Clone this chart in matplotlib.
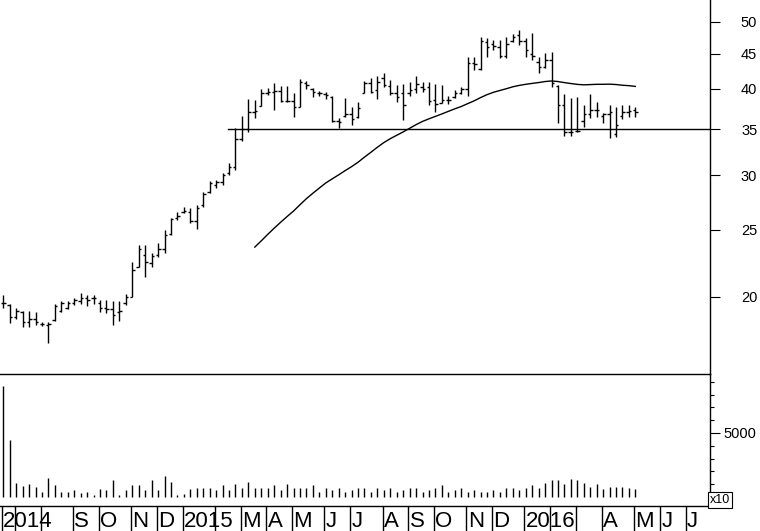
import matplotlib
matplotlib.use('Agg')
import matplotlib.pyplot as plt
import numpy as np
import pandas as pd

# Weekly bars, one per Friday; a bar whose Friday was a holiday
# carries the date of the last trading day of that week
first_week = '2014-06-20'
holidays = {'2016-01-01': '2015-12-31'}

high = [20.13, 19.53, 19.27, 19.08, 19.08, 19.02, 18.39, 18.39, 19.53, 19.73,
        19.73, 19.92, 20.26, 20.13, 20.13, 19.79, 19.79, 19.73, 19.73, 20.19,
        22.47, 23.78, 23.78, 23.15, 23.94, 25.00, 26.02, 26.54, 26.99, 26.90,
        27.17, 28.37, 29.43, 29.53, 30.23, 31.25, 35.12, 36.55, 38.68, 38.55,
        39.99, 40.12, 40.80, 40.39, 40.39, 39.46, 41.35, 41.08, 40.12, 39.73,
        39.59, 39.07, 36.31, 38.81, 37.67, 38.30, 41.08, 41.49, 41.76, 42.18,
        41.21, 40.53, 40.66, 40.94, 41.76, 40.94, 40.94, 40.66, 40.53, 39.07,
        39.86, 40.26, 44.50, 44.50, 47.56, 47.40, 47.09, 47.09, 47.56, 48.04,
        48.68, 47.40, 48.20, 44.50, 45.09, 45.24, 40.53, 39.33, 38.81, 38.94,
        37.92, 39.33, 38.30, 36.92, 37.92, 37.67, 37.92, 37.92, 37.67]
low = [19.27, 18.34, 18.58, 18.09, 18.09, 18.21, 18.15, 17.14, 18.46, 19.02,
       19.21, 19.46, 19.53, 19.40, 19.53, 19.02, 18.96, 18.21, 18.46, 19.46,
       19.99, 22.09, 21.37, 22.09, 22.84, 23.15, 24.58, 25.84, 26.45, 25.59,
       25.08, 26.99, 28.27, 28.75, 29.04, 30.02, 30.53, 33.63, 34.65, 36.31,
       37.79, 39.20, 37.29, 38.30, 38.30, 36.43, 37.67, 39.99, 38.94, 39.07,
       38.68, 35.83, 35.12, 36.43, 35.47, 36.31, 39.46, 39.46, 38.68, 40.26,
       39.20, 38.30, 36.07, 39.07, 39.46, 39.59, 37.92, 37.04, 38.17, 38.04,
       38.81, 39.33, 39.07, 42.61, 42.61, 44.50, 45.54, 44.35, 44.35, 46.77,
       46.31, 44.50, 44.05, 42.18, 42.89, 40.26, 35.71, 34.19, 34.19, 34.65,
       35.23, 36.31, 36.43, 35.71, 33.97, 34.08, 36.19, 36.43, 36.43]
open_ = [19.6, 19.5, 18.7, 19.0, 18.4, 18.6, 18.3, 18.2, 18.5, 19.1,
         19.3, 19.6, 19.7, 19.9, 19.9, 19.6, 19.3, 19.2, 19.0, 19.6,
         20.0, 22.1, 23.0, 22.4, 23.0, 23.5, 24.7, 26.0, 26.5, 26.5,
         25.8, 27.2, 28.4, 29.0, 29.3, 30.2, 30.8, 33.8, 35.0, 37.0,
         37.8, 39.5, 39.6, 39.7, 38.4, 38.4, 37.7, 40.8, 40.0, 39.5,
         39.3, 39.0, 35.9, 36.6, 36.8, 36.4, 39.5, 40.8, 39.8, 41.5,
         40.4, 39.5, 39.5, 39.5, 40.0, 40.3, 40.3, 38.6, 38.2, 38.6,
         39.0, 39.5, 40.0, 43.6, 42.8, 46.7, 46.5, 46.0, 44.6, 47.0,
         47.8, 47.0, 45.0, 43.8, 43.0, 44.0, 40.4, 37.9, 34.6, 34.8,
         36.0, 36.8, 37.3, 36.5, 36.8, 34.4, 36.5, 37.0, 37.3]
close = [19.6, 18.7, 19.1, 18.4, 18.6, 18.4, 18.3, 18.3, 19.4, 19.6,
         19.6, 19.8, 19.9, 19.8, 19.9, 19.3, 19.2, 18.8, 19.1, 20.0,
         21.9, 23.5, 22.5, 22.9, 23.5, 24.6, 25.9, 26.2, 26.6, 25.8,
         26.9, 28.2, 29.2, 29.3, 30.0, 30.8, 33.8, 35.0, 37.0, 37.2,
         39.5, 39.6, 39.7, 38.4, 38.4, 37.7, 41.0, 40.5, 39.6, 39.4,
         39.2, 36.0, 35.8, 36.8, 36.2, 37.5, 40.8, 39.6, 41.0, 40.5,
         39.5, 39.0, 37.9, 39.8, 40.6, 40.0, 38.4, 38.0, 38.5, 38.5,
         39.4, 40.0, 43.6, 43.5, 46.9, 46.0, 46.2, 44.6, 46.4, 47.5,
         47.0, 45.5, 44.6, 43.0, 44.0, 40.8, 37.9, 34.6, 34.6, 34.8,
         36.8, 37.3, 37.3, 36.8, 37.0, 35.5, 37.0, 37.2, 37.0]
# volume in units of 10
volume = [8650, 4480, 1100, 850, 1050, 800, 400, 1450, 900, 400,
          400, 550, 300, 400, 150, 600, 550, 1300, 150, 550,
          950, 900, 550, 1300, 550, 1650, 1150, 150, 200, 600,
          700, 700, 700, 550, 900, 550, 1050, 700, 1150, 700,
          700, 700, 900, 550, 1050, 700, 700, 700, 900, 400,
          700, 550, 700, 400, 550, 700, 700, 400, 700, 550,
          700, 400, 550, 700, 700, 400, 550, 700, 900, 400,
          550, 700, 400, 550, 400, 400, 550, 400, 700, 700,
          550, 700, 900, 700, 1100, 1300, 1300, 1000, 1400, 1300,
          1100, 800, 1000, 650, 800, 800, 800, 700, 650]

ma_weeks = 40
support_level = 35
support_from = '2015-02-19'

price_ticks = [20, 25, 30, 35, 40, 45, 50]
volume_ticks = [5000]
volume_minor = [1000, 2000, 3000, 4000, 6000, 7000, 8000, 9000]
# month labels that the chart leaves out (they would collide with a year)
hidden_months = ['2014-07', '2014-08', '2015-02', '2016-02', '2016-03']

FONT = 'Liberation Sans'

# week index axis, extended past the last bar to the right edge
n = len(close)
x = np.arange(n)
weeks = pd.Series(pd.date_range(first_week, periods=110, freq='W-FRI'))
weeks = weeks.replace({pd.Timestamp(k): pd.Timestamp(v)
                       for k, v in holidays.items()})
x_left, x_right = -0.51, 109.57

fig = plt.figure(figsize=(7.6, 5.31), dpi=100)
W, H = 760.0, 531.0
ax_vol = fig.add_axes([0, (H - 506) / H, 710 / W, 132 / H])
ax = fig.add_axes([0, (H - 374) / H, 710 / W, 374 / H])
ax_lab = fig.add_axes([0, 0, 710 / W, 25 / H])
for a in (ax, ax_vol, ax_lab):
    a.patch.set_visible(False)

# price bars
tick = 0.38
ax.vlines(x, low, high, color='black', lw=1.0)
ax.hlines(open_, x - tick, x, color='black', lw=1.0)
ax.hlines(close, x, x + tick, color='black', lw=1.0)

ma = pd.Series(close).rolling(ma_weeks).mean()
ax.plot(x, ma, color='black', lw=1.0)

start = (pd.Timestamp(support_from) - pd.Timestamp(first_week)).days / 7
ax.axhline(support_level, xmin=(start - x_left) / (x_right - x_left),
           xmax=1, color='black', lw=1.0)

ax.set_yscale('log')
ax.set_ylim(15.47, 53.8)
ax.set_xlim(x_left, x_right)
ax.set_yticks(price_ticks)
ax.set_yticklabels([str(t) for t in price_ticks])
ax.yaxis.set_minor_locator(matplotlib.ticker.NullLocator())

# volume
ax_vol.vlines(x, 0, volume, color='black', lw=1.0)
ax_vol.set_xlim(x_left, x_right)
ax_vol.set_ylim(-703, 9609)
ax_vol.set_yticks(volume_ticks)
ax_vol.set_yticklabels([str(t) for t in volume_ticks])
ax_vol.set_yticks(volume_minor, minor=True)
ax_vol.text(1.0, 0.0, 'x10', transform=ax_vol.transAxes, ha='left',
            va='bottom', fontsize=9, family=FONT,
            bbox=dict(boxstyle='square,pad=0.15', fc='white', ec='black',
                      lw=0.8))

for a, pad in ((ax, 27.0), (ax_vol, 26.5)):
    a.yaxis.tick_right()
    a.tick_params(axis='y', which='major', direction='out', length=7,
                  width=0.8, pad=pad, labelsize=10.5)
    a.tick_params(axis='y', which='minor', direction='out', length=3,
                  width=0.8)
    a.tick_params(axis='x', which='both', bottom=False, labelbottom=False)
    for lbl in a.get_yticklabels():
        lbl.set_horizontalalignment('right')
        lbl.set_family(FONT)
    a.spines['top'].set_visible(False)
    a.spines['left'].set_visible(False)
    for s in ('right', 'bottom'):
        a.spines[s].set_linewidth(1.0)
        a.spines[s].set_color('black')

# month strip
ax_lab.set_xlim(x_left, x_right)
ax_lab.set_ylim(0, 1)
ax_lab.axis('off')
months = weeks.dt.to_period('M')
firsts = months.drop_duplicates()
for i, per in firsts.items():
    pos = i - 0.2
    ax_lab.vlines(pos, 0, 1, color='black', lw=1.0)
    if str(per) in hidden_months:
        continue
    if per.month == 1 or i == 0:
        label = str(per.year)
    else:
        label = per.strftime('%b')[0]
    ax_lab.text(pos + 0.2, 0.16, label, ha='left', va='baseline',
                fontsize=16, family=FONT)

fig.savefig('out.png', dpi=100, facecolor='white')
